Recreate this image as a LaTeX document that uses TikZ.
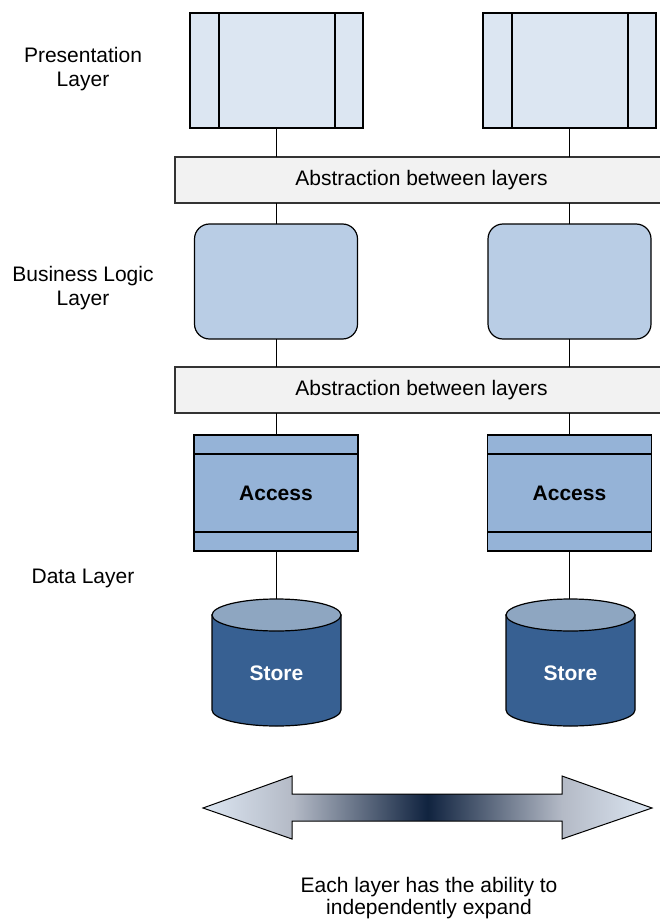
\documentclass[tikz,border=0pt]{standalone}
\usepackage{fontspec}
\setmainfont{Liberation Sans}
\usetikzlibrary{positioning, calc}
\definecolor{PresFill}{HTML}{DCE6F2}
\definecolor{AbsFill}{HTML}{F2F2F2}
\definecolor{LogicFill}{HTML}{B9CDE5}
\definecolor{AccessFill}{HTML}{95B3D7}
\definecolor{StoreBody}{HTML}{376092}
\definecolor{StoreTop}{HTML}{8EA6C1}
\definecolor{ArrowMid}{HTML}{B4BAC6}
\definecolor{ArrowDark}{HTML}{10233F}
\pgfdeclarehorizontalshading{expandshade}{100bp}{color(0bp)=(PresFill); color(25bp)=(PresFill); color(35bp)=(ArrowMid); color(50bp)=(ArrowDark); color(65bp)=(ArrowMid); color(75bp)=(PresFill); color(100bp)=(PresFill)}

\begin{document}
\begin{tikzpicture}[x=1pt, y=-1pt,
    every node/.style={font=\fontsize{21}{24.5}\selectfont},
    presbox/.style={draw, line width=1.5pt, fill=PresFill, minimum width=173pt, minimum height=115pt, inner sep=0pt, outer sep=0pt},
    absbar/.style={draw=black!80, line width=1.2pt, fill=AbsFill, minimum width=493pt, minimum height=46pt, inner sep=0pt, outer sep=0pt},
    logicbox/.style={draw, line width=1.2pt, fill=LogicFill, rounded corners=15pt, minimum width=163pt, minimum height=115pt, outer sep=0pt},
    accbox/.style={draw, line width=1.2pt, fill=AccessFill, minimum width=164pt, minimum height=116pt, outer sep=0pt, font=\fontsize{21}{24}\selectfont\bfseries},
    storebox/.style={minimum width=129pt, minimum height=95pt, inner sep=0pt, outer sep=0pt},
    storetext/.style={text=white, font=\fontsize{21}{24}\selectfont\bfseries},
    layertext/.style={align=center},
    link/.style={line width=1pt}]
    \useasboundingbox (0,0) rectangle (660,923);

    % Presentation layer
    \node[presbox] (pres1) at (276.5,70.5) {};
    \node[presbox] (pres2) at (569.5,70.5) {};
    \foreach \p in {pres1,pres2}{
        \draw[line width=1.5pt] ($(\p.north west)+(29,0)$) -- ($(\p.south west)+(29,0)$);
        \draw[line width=1.5pt] ($(\p.north east)+(-28,0)$) -- ($(\p.south east)+(-28,0)$);
    }

    % Abstraction bars
    \node[absbar] (abs1) at (421.5,180) {Abstraction between layers};
    \node[absbar] (abs2) at (421.5,390) {Abstraction between layers};

    % Business logic layer
    \node[logicbox] (logic1) at (276,281.5) {};
    \node[logicbox] (logic2) at (569.5,281.5) {};

    % Data layer: access
    \node[accbox] (acc1) at (276,493) {Access};
    \node[accbox] (acc2) at (569.5,493) {Access};
    \foreach \a in {acc1,acc2}{
        \draw[line width=1.2pt] ($(\a.north west)+(0,19)$) -- ($(\a.north east)+(0,19)$);
        \draw[line width=1.2pt] ($(\a.south west)+(0,-19)$) -- ($(\a.south east)+(0,-19)$);
    }

    % Data layer: stores
    \node[storebox] (store1) at (276.5,662.5) {};
    \node[storebox] (store2) at (570.5,662.5) {};
    \foreach \s in {store1,store2}{
        \filldraw[fill=StoreBody, line width=1.2pt] (\s.north west) -- (\s.south west)
            arc[start angle=180, end angle=360, x radius=64.5pt, y radius=16pt] -- (\s.north east) -- cycle;
        \filldraw[fill=StoreTop, line width=1.2pt] (\s.north) ellipse[x radius=64.5pt, y radius=16pt];
        \coordinate (\s top) at ($(\s.north)+(0,-16)$);
        \node[storetext] (\s label) at ($(\s.center)+(0,10.5)$) {Store};
    }

    % Connectors
    \foreach \i in {1,2}{
        \draw[link] (pres\i.south) -- (pres\i.south |- abs1.north);
        \draw[link] (logic\i.north) -- (logic\i.north |- abs1.south);
        \draw[link] (logic\i.south) -- (logic\i.south |- abs2.north);
        \draw[link] (acc\i.north) -- (acc\i.north |- abs2.south);
        \draw[link] (acc\i.south) -- (acc\i.south |- store\i top);
    }

    % Layer labels
    \node[layertext] (preslbl) at (83,69) {Presentation\\Layer};
    \node[layertext] (logiclbl) at (83,288) {Business Logic\\Layer};
    \node (datalbl) at (83,578) {Data Layer};

    % Expansion arrow
    \shadedraw[shading=expandshade, line width=1pt] (203,808) -- (292,776) -- (292,794) -- (562,794)
        -- (562,776) -- (652,808) -- (562,839) -- (562,821) -- (292,821) -- (292,839) -- cycle;
    \node[layertext, font=\fontsize{21}{22}\selectfont] (expandlbl) at (429,898.5) {Each layer has the ability to\\independently expand};
\end{tikzpicture}
\end{document}
